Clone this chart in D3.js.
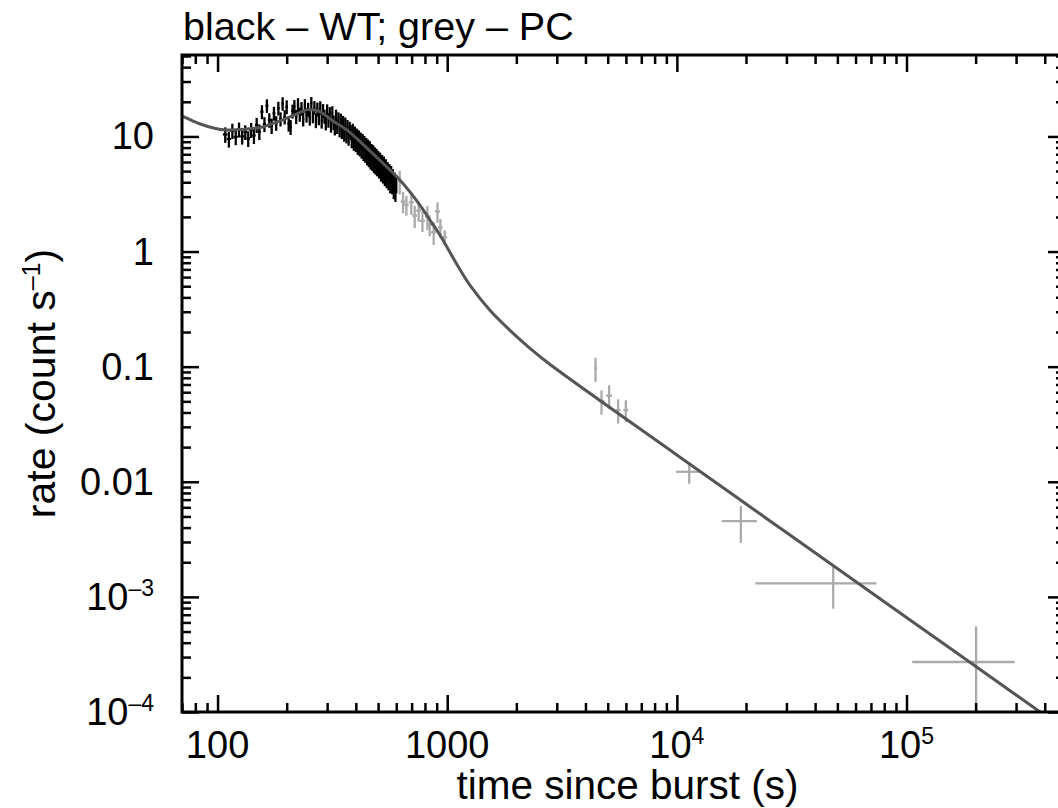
<!DOCTYPE html>
<html>
<head>
<meta charset="utf-8">
<script src="https://cdn.jsdelivr.net/npm/d3@7"></script>
<style>
  html, body { margin: 0; padding: 0; background: #fff; }
  svg text { font-family: "Liberation Sans", Arial, Helvetica, sans-serif; fill: #000; }
</style>
</head>
<body>
<div id="chart"></div>
<script>
// WT mode (black): [time since burst (s), rate, rate error]
const wtData = [
  [108, 10.4, 1.6], [112, 9.5, 1.5], [116, 11.2, 1.7], [120, 9.9, 1.5], [124, 11.5, 1.7],
  [128, 10.0, 1.5], [132, 10.9, 1.6], [136, 9.6, 1.5], [140, 11.4, 1.7], [144, 10.2, 1.6],
  [148, 12.6, 1.9], [152, 11.0, 1.7], [156, 16.4, 2.3], [160, 12.8, 1.9], [164, 18.5, 2.5],
  [168, 13.9, 2.0], [172, 12.4, 1.9], [176, 15.9, 2.2], [180, 13.1, 1.9], [184, 17.6, 2.4],
  [188, 14.2, 2.0], [192, 19.3, 2.6], [196, 14.8, 2.1], [200, 18.1, 2.5], [204, 12.9, 1.9],
  [208, 12.1, 1.8], [212, 16.6, 2.3], [216, 18.2, 2.5], [220, 14.9, 2.1], [224, 18.9, 2.6],
  [228, 15.6, 2.2], [232, 17.5, 2.4], [236, 14.2, 2.0], [240, 18.6, 2.5], [244, 15.4, 2.2],
  [248, 17.2, 2.4], [252, 14.5, 2.1], [256, 19.4, 2.6], [260, 15.1, 2.1], [264, 17.9, 2.4],
  [268, 13.8, 2.0], [272, 17.3, 2.4], [276, 14.6, 2.1], [280, 17.8, 2.4], [284, 13.7, 2.0],
  [288, 16.8, 2.3], [292, 15.0, 2.1], [296, 13.2, 1.9], [300, 16.7, 2.3], [304, 13.9, 2.0],
  [308, 15.8, 2.2], [312, 12.7, 1.9], [316, 16.1, 2.2], [320, 13.3, 1.9], [324, 12.0, 1.8],
  [328, 15.0, 2.1], [332, 12.3, 1.8], [336, 14.2, 2.0], [340, 11.5, 1.7], [344, 13.8, 2.0],
  [348, 11.2, 1.7], [352, 13.2, 1.9], [356, 10.6, 1.6], [360, 12.7, 1.9], [364, 10.2, 1.5],
  [368, 12.1, 1.8], [372, 9.8, 1.5], [376, 11.7, 1.7], [380, 10.9, 1.6], [384, 9.3, 1.4],
  [388, 11.2, 1.7], [392, 8.9, 1.4], [396, 10.6, 1.6], [400, 8.6, 1.3], [404, 10.2, 1.5],
  [408, 8.2, 1.3], [412, 9.8, 1.5], [416, 7.9, 1.2], [420, 9.4, 1.4], [424, 7.6, 1.2],
  [428, 9.1, 1.4], [432, 7.2, 1.1], [436, 8.8, 1.3], [440, 7.0, 1.1], [444, 8.4, 1.3],
  [448, 6.6, 1.0], [452, 8.2, 1.2], [456, 6.4, 1.0], [460, 7.9, 1.2], [464, 6.1, 0.95],
  [468, 7.5, 1.1], [472, 5.9, 0.9], [476, 7.3, 1.1], [480, 5.7, 0.9], [484, 7.0, 1.05],
  [488, 5.5, 0.85], [492, 6.8, 1.0], [496, 5.3, 0.8], [500, 6.5, 1.0], [505, 5.1, 0.8],
  [510, 6.3, 0.95], [515, 4.8, 0.75], [520, 6.0, 0.9], [525, 4.6, 0.7], [530, 5.8, 0.9],
  [535, 4.4, 0.7], [540, 5.5, 0.85], [545, 4.2, 0.65], [550, 5.2, 0.8], [555, 4.0, 0.6],
  [560, 5.0, 0.75], [565, 3.8, 0.6], [570, 4.8, 0.75], [575, 3.7, 0.55], [580, 4.5, 0.7],
  [585, 3.4, 0.55], [590, 4.2, 0.65], [595, 3.2, 0.5], [600, 3.8, 0.6]
];
const wtHalfBin = 2.5;

// PC mode (grey): [time, time half-width, rate, rate error]
const pcData = [
  [621, 15, 4.08, 0.95], [642, 15, 2.72, 0.57], [664, 15, 2.55, 0.50], [698, 18, 2.68, 0.60],
  [722, 18, 2.05, 0.45], [751, 18, 2.27, 0.45], [780, 20, 1.85, 0.37], [820, 20, 2.01, 0.47],
  [839, 20, 1.71, 0.35], [873, 22, 1.47, 0.33], [907, 22, 2.23, 0.45], [934, 22, 1.62, 0.30],
  [975, 25, 1.33, 0.20],
  [4425, 60, 0.0968, 0.023], [4698, 140, 0.0503, 0.012], [5070, 150, 0.056, 0.013],
  [5550, 130, 0.042, 0.010], [5995, 150, 0.042, 0.009],
  [11320, 1400, 0.01222, 0.0026], [19000, 3300, 0.00455, 0.0016],
  [47970, 26000, 0.00131, 0.00052], [200900, 95000, 0.000272, 0.00028]
];

// model curve: [time, rate]
const modelCurve = [
  [60, 16.7], [69.7, 15.1], [83.5, 12.9], [97, 11.8], [109, 11.4], [131, 11.55],
  [157, 12.1], [186, 13.6], [217, 15.4], [247, 17.1], [278, 16.4], [317, 13.7],
  [365, 11.4], [446, 7.97], [545, 5.45], [621, 4.2], [759, 2.55], [839, 1.89],
  [928, 1.40], [1111, 0.752], [1253, 0.513], [1531, 0.311], [1871, 0.208],
  [2287, 0.145], [2797, 0.105], [10000, 0.0171], [30000, 0.00362],
  [100000, 0.000662], [382000, 0.0001], [515000, 0.000065]
];

const xTicks = [100, 1000, 1e4, 1e5];
const xTickLabels = [["100", ""], ["1000", ""], ["10", "4"], ["10", "5"]];
const yTicks = [1e-4, 1e-3, 0.01, 0.1, 1, 10];
const yTickLabels = [["10", "–4"], ["10", "–3"], ["0.01", ""], ["0.1", ""], ["1", ""], ["10", ""]];

const width = 1058, height = 808;
const plotLeft = 182, plotRight = 1065, plotTop = 55, plotBottom = 712;

const svg = d3.select("#chart").append("svg")
  .attr("width", width)
  .attr("height", height);

const x = d3.scaleLog().domain([70, 490000]).range([plotLeft, plotRight]);
const y = d3.scaleLog().domain([1e-4, 51]).range([plotBottom, plotTop]);

const isMajor = v => Math.abs(Math.log10(v) - Math.round(Math.log10(v))) < 1e-6;
const xMinor = x.ticks().filter(v => !isMajor(v));
const yMinor = y.ticks().filter(v => !isMajor(v));

svg.append("defs").append("clipPath").attr("id", "plot")
  .append("rect")
  .attr("x", plotLeft).attr("y", plotTop)
  .attr("width", plotRight - plotLeft).attr("height", plotBottom - plotTop);

// data
const plot = svg.append("g").attr("clip-path", "url(#plot)");

function errorBars(data, color, getT, getDt, getR, getE) {
  const g = plot.append("g").attr("stroke", color).attr("stroke-width", 2.3);
  g.selectAll(".v").data(data).join("line")
    .attr("x1", d => x(getT(d))).attr("x2", d => x(getT(d)))
    .attr("y1", d => y(Math.max(getR(d) - getE(d), 1e-6)))
    .attr("y2", d => y(getR(d) + getE(d)));
  g.selectAll(".h").data(data).join("line")
    .attr("x1", d => x(getT(d) - getDt(d))).attr("x2", d => x(getT(d) + getDt(d)))
    .attr("y1", d => y(getR(d))).attr("y2", d => y(getR(d)));
}

errorBars(wtData, "#000", d => d[0], () => wtHalfBin, d => d[1], d => d[2]);
errorBars(pcData, "#aaaaaa", d => d[0], d => d[1], d => d[2], d => d[3]);

plot.append("path")
  .datum(modelCurve)
  .attr("fill", "none")
  .attr("stroke", "#555")
  .attr("stroke-width", 3)
  .attr("d", d3.line().x(d => x(d[0])).y(d => y(d[1])).curve(d3.curveCatmullRom));

// axes: inward ticks on all four sides
const sides = [
  [d3.axisBottom(x), `translate(0,${plotBottom})`, xMinor, xTicks],
  [d3.axisTop(x), `translate(0,${plotTop})`, xMinor, xTicks],
  [d3.axisLeft(y), `translate(${plotLeft},0)`, yMinor, yTicks],
  [d3.axisRight(y), `translate(${plotRight},0)`, yMinor, yTicks]
];
sides.forEach(([ax, tr, minor, major]) => {
  [[minor, 9], [major, 17]].forEach(([vals, len]) => {
    const g = svg.append("g").attr("transform", tr)
      .call(ax.tickValues(vals).tickSize(-len).tickFormat(""));
    g.select(".domain").remove();
    g.selectAll("line").attr("stroke", "#000").attr("stroke-width", 2.5);
  });
});

svg.append("rect")
  .attr("x", plotLeft).attr("y", plotTop)
  .attr("width", plotRight - plotLeft).attr("height", plotBottom - plotTop)
  .attr("fill", "none")
  .attr("stroke", "#000")
  .attr("stroke-width", 3);

// tick labels
const xl = svg.append("g").attr("font-size", 38).attr("text-anchor", "middle")
  .selectAll("text").data(xTicks).join("text")
  .attr("x", d => x(d))
  .attr("y", 758);
xl.append("tspan").text((d, i) => xTickLabels[i][0]);
xl.append("tspan").attr("font-size", 23).attr("dy", -14).text((d, i) => xTickLabels[i][1]);

const yl = svg.append("g").attr("font-size", 38).attr("text-anchor", "end")
  .selectAll("text").data(yTicks).join("text")
  .attr("x", 154)
  .attr("y", d => y(d) + 13);
yl.append("tspan").text((d, i) => yTickLabels[i][0]);
yl.append("tspan").attr("font-size", 23).attr("dy", -14).text((d, i) => yTickLabels[i][1]);

// titles
svg.append("text")
  .attr("x", 183).attr("y", 40)
  .attr("font-size", 39.5)
  .text("black – WT; grey – PC");

svg.append("text")
  .attr("x", (plotLeft + 1057) / 2 + 8).attr("y", 799)
  .attr("font-size", 40.5)
  .attr("text-anchor", "middle")
  .text("time since burst (s)");

const yt = svg.append("text")
  .attr("transform", `translate(55,${(plotTop + plotBottom) / 2}) rotate(-90)`)
  .attr("font-size", 41)
  .attr("text-anchor", "middle");
yt.append("tspan").text("rate (count s");
yt.append("tspan").attr("font-size", 25).attr("dy", -15).text("–1");
yt.append("tspan").attr("dy", 15).text(")");
</script>
</body>
</html>
